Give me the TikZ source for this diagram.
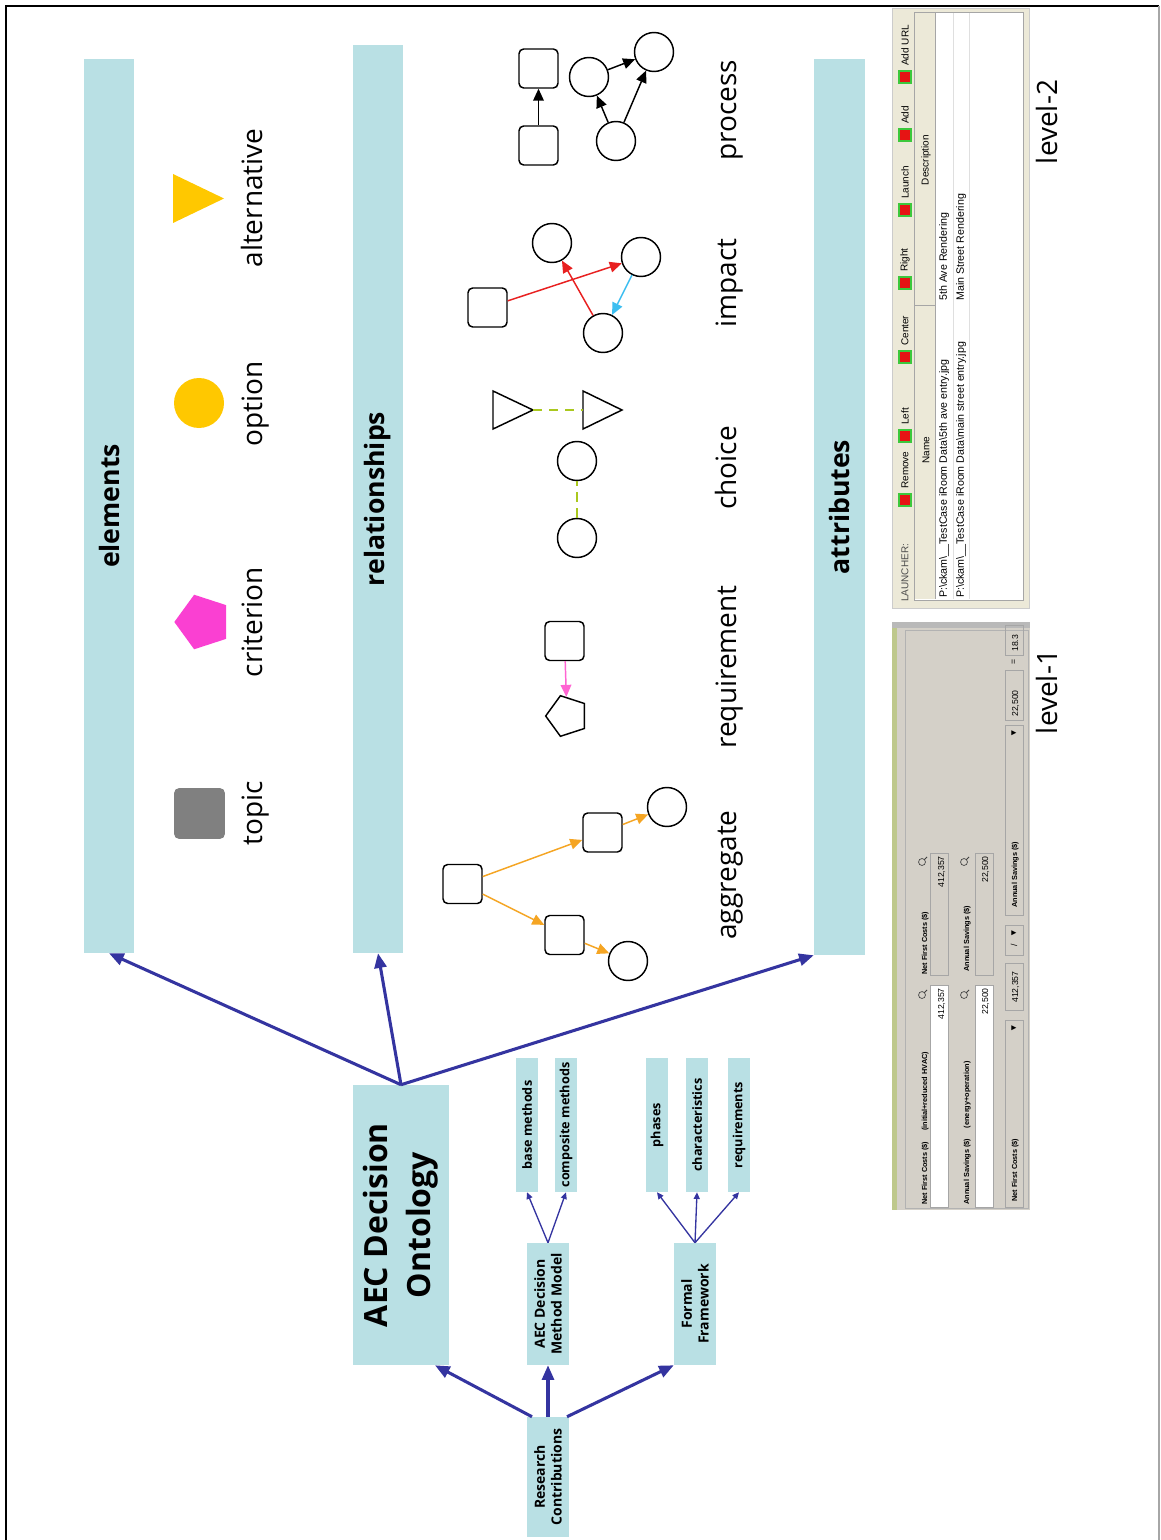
\documentclass[tikz,border=0pt]{standalone}
\usepackage{fontspec}
\setmainfont{Open Sans}
\newfontfamily\guifont{Liberation Sans}
\usetikzlibrary{arrows.meta,shapes.geometric,calc}

\definecolor{barteal}{RGB}{185,224,228}
\definecolor{navy}{RGB}{52,52,160}
\definecolor{gold}{RGB}{255,200,0}
\definecolor{magent}{RGB}{250,64,210}
\definecolor{topicgray}{RGB}{128,128,128}
\definecolor{aggorange}{RGB}{245,165,35}
\definecolor{choicegreen}{RGB}{170,200,30}
\definecolor{impred}{RGB}{232,32,32}
\definecolor{impblue}{RGB}{60,190,240}
\definecolor{reqpink}{RGB}{255,100,210}
\definecolor{guibeige}{RGB}{236,233,216}
\definecolor{guigray}{RGB}{212,208,200}
\definecolor{guiolive}{RGB}{190,200,140}
\definecolor{btnred}{RGB}{230,20,20}
\definecolor{btngreen}{RGB}{60,200,60}

\begin{document}
\begin{tikzpicture}[x=0.75pt,y=-0.75pt,
  bar/.style={rotate=90,fill=barteal,inner sep=0,minimum height=37.5pt,
    font=\bfseries\fontsize{20}{24}\selectfont},
  box/.style={rotate=90,fill=barteal,inner sep=0,align=center},
  smallbox/.style={box,minimum width=100.5pt,minimum height=16.5pt,
    font=\bfseries\fontsize{9.5}{11}\selectfont},
  midbox/.style={box,minimum width=91.5pt,minimum height=31.5pt,
    font=\bfseries\fontsize{10.5}{12.5}\selectfont},
  lab/.style={rotate=90,anchor=base,inner sep=0,font=\fontsize{21}{25}\selectfont},
  bigarrow/.style={navy,line width=2.3pt,-{Triangle[length=11pt,width=9pt]}},
  thinarrow/.style={navy,line width=1pt,-{Triangle[length=5pt,width=4.5pt]}},
  sq/.style={draw,line width=1.1pt,rounded corners=3.5pt,minimum size=29.25pt,inner sep=0},
  circ/.style={draw,circle,line width=1.1pt,minimum size=29.25pt,inner sep=0},
  relarrow/.style={line width=1.1pt,-{Triangle[length=9pt,width=8pt]}},
  choicedash/.style={choicegreen,line width=1.6pt,dash pattern=on 7pt off 5pt},
  gui/.style={rotate=90,inner sep=0,font=\guifont\fontsize{7.5}{8.5}\selectfont},
  guirow/.style={rotate=90,inner sep=0,font=\guifont\fontsize{8}{9}\selectfont},
  guib/.style={rotate=90,inner sep=0,font=\guifont\bfseries\fontsize{5.5}{6.5}\selectfont},
  guival/.style={rotate=90,inner sep=0,font=\guifont\fontsize{6.5}{7.5}\selectfont},
  btn/.style={fill=btnred,draw=btngreen,line width=1.3pt,minimum size=8.5pt,inner sep=0},
]
\useasboundingbox (0,0) rectangle (1160,1540);
\fill[white] (0,0) rectangle (1160,1540);

% outer frame
\draw[line width=1.8pt] (6,1545) -- (6,6) -- (1159,6);
\draw[gray!70,line width=0.8pt] (1159,6) -- (1159,1545);

% ---------- the three category bars ----------
\node[bar,minimum width=670.5pt] (elem) at (109,506) {elements};
\node[bar,minimum width=681pt] (rel) at (378,499) {relationships};
\node[bar,minimum width=672pt,minimum height=38.25pt] (attr) at (839.5,507) {attributes};

% ---------- element icons ----------
\fill[gold] (173,174) -- (173,223) -- (224,198.5) -- cycle;
\node[circle,fill=gold,minimum size=37.5pt,inner sep=0] (opt) at (199,403) {};
\node[regular polygon,regular polygon sides=5,shape border rotate=90,fill=magent,
      minimum size=43pt,inner sep=0] (crit) at (203,622) {};
\node[fill=topicgray,rounded corners=3.5pt,minimum size=38pt,inner sep=0] (topic) at (199.5,813.5) {};

\node[lab] (lalt) at (262,198) {alternative};
\node[lab] (lopt) at (262,404) {option};
\node[lab] (lcrit) at (262,622) {criterion};
\node[lab] (ltop) at (262,813) {topic};

% ---------- relationship icons ----------
% aggregate
\node[sq] (ag0) at (462.5,884) {};
\node[sq] (ag1) at (602.5,832.5) {};
\node[circ] (ag2) at (667,807) {};
\node[sq] (ag3) at (564.5,935) {};
\node[circ] (ag4) at (628,961) {};
\draw[relarrow,aggorange] (ag0) -- (ag1);
\draw[relarrow,aggorange] (ag1) -- (ag2);
\draw[relarrow,aggorange] (ag0) -- (ag3);
\draw[relarrow,aggorange] (ag3) -- (ag4);

% requirement
\node[sq] (rq0) at (564.5,641) {};
\node[regular polygon,regular polygon sides=5,shape border rotate=90,draw,line width=1.1pt,
      minimum size=32pt,inner sep=0] (rq1) at (567,716) {};
\draw[relarrow,reqpink] (rq0) -- (rq1);

% choice
\node[circ] (ch0) at (577,538) {};
\node[circ] (ch1) at (577,461) {};
\draw[choicedash] (ch0) -- (ch1);
\draw[line width=1.1pt] (493,391) -- (493,429) -- (533,410) -- cycle;
\draw[line width=1.1pt] (583,391) -- (583,429) -- (622,410) -- cycle;
\coordinate (chA) at (533,410);
\coordinate (chB) at (583,410);
\draw[choicedash] (chA) -- (chB);

% impact
\node[sq] (im0) at (487.5,307.5) {};
\node[circ] (imA) at (552,243) {};
\node[circ] (imB) at (641,257) {};
\node[circ] (imC) at (603,333) {};
\draw[relarrow,impred] (im0) -- (imB);
\draw[relarrow,impred] (imC) -- (imA);
\draw[relarrow,impblue] (imB) -- (imC);

% process
\node[sq] (pr0) at (538.5,145.5) {};
\node[sq] (pr1) at (538.5,68.5) {};
\node[circ] (prD) at (589,77) {};
\node[circ] (prE) at (654,52) {};
\node[circ] (prF) at (616,141) {};
\draw[relarrow] (pr0) -- (pr1);
\draw[relarrow] (prF) -- (prD);
\draw[relarrow] (prF) -- (prE);
\draw[relarrow] (prD) -- (prE);

\node[lab] (lagg) at (736,875) {aggregate};
\node[lab] (lreq) at (736,667) {requirement};
\node[lab] (lcho) at (736,468) {choice};
\node[lab] (limp) at (736,283) {impact};
\node[lab] (lpro) at (736,110) {process};

% ---------- contribution tree ----------
\node[box,minimum width=210pt,minimum height=72pt,
      font=\bfseries\fontsize{24}{32}\selectfont] (onto) at (401,1225) {AEC Decision\\Ontology};
\draw[bigarrow] (onto.east) -- (elem.west);
\draw[bigarrow] (onto.east) -- (rel.west);
\draw[bigarrow] (onto.east) -- (attr.north west);

\node[midbox] (meth) at (548,1304) {AEC Decision\\Method Model};
\node[midbox] (form) at (695,1304) {Formal\\Framework};
\node[midbox,minimum width=90pt] (res) at (548,1477) {Research\\Contributions};

\node[smallbox] (base) at (527,1125) {base methods};
\node[smallbox] (comp) at (566,1125) {composite methods};
\node[smallbox] (phas) at (657,1125) {phases};
\node[smallbox] (char) at (697,1125) {characteristics};
\node[smallbox] (reqs) at (739,1125) {requirements};

\draw[thinarrow] (meth.east) -- (base.west);
\draw[thinarrow] (meth.east) -- (comp.west);
\draw[thinarrow] (form.east) -- (phas.west);
\draw[thinarrow] (form.east) -- (char.west);
\draw[thinarrow] (form.east) -- (reqs.west);

\draw[bigarrow] ($(res.east)+(-16,0)$) -- ($(onto.west)+(34,0)$);
\draw[bigarrow] (res.east) -- (meth.west);
\draw[bigarrow] ($(res.east)+(19,0)$) -- (form.north west);

% ---------- level-2: launcher window ----------
\node[fill=guibeige,draw=gray!40,minimum width=102.75pt,minimum height=450pt,inner sep=0] (lv2) at (960.5,308) {};
\node[fill=white,draw=gray!70,minimum width=81.75pt,minimum height=441pt,inner sep=0] (tbl) at (968.5,306) {};
\fill[guibeige] (915,13) rectangle (935,599);
\draw[gray!70] (935,13) -- (935,599);
\draw[gray!70] (915,305) -- (935,305);
\draw[gray!25] (953,13) -- (953,599);
\draw[gray!25] (969,13) -- (969,599);
\node[gui] (hname) at (926,450) {Name};
\node[gui] (hdesc) at (926,160) {Description};
\node[guirow,anchor=west] (r1a) at (944,598) {P:\textbackslash ckam\textbackslash\_\_TestCase iRoom Data\textbackslash 5th ave entry.jpg};
\node[guirow,anchor=west] (r1b) at (944,301) {5th Ave Rendering};
\node[guirow,anchor=west] (r2a) at (961,598) {P:\textbackslash ckam\textbackslash\_\_TestCase iRoom Data\textbackslash main street entry.jpg};
\node[guirow,anchor=west] (r2b) at (961,301) {Main Street Rendering};

\node[gui,anchor=west,text=gray!60!black] (launch) at (905,602) {LAUNCHER:};
\node[btn] (b1) at (905,500) {};
\node[gui,anchor=west] (t1) at (905,489) {Remove};
\node[btn] (b2) at (905,436) {};
\node[gui,anchor=west] (t2) at (905,425) {Left};
\node[btn] (b3) at (905,357) {};
\node[gui,anchor=west] (t3) at (905,346) {Center};
\node[btn] (b4) at (905,283) {};
\node[gui,anchor=west] (t4) at (905,272) {Right};
\node[btn] (b5) at (905,210) {};
\node[gui,anchor=west] (t5) at (905,199) {Launch};
\node[btn] (b6) at (905,135) {};
\node[gui,anchor=west] (t6) at (905,124) {Add};
\node[btn] (b7) at (905,77) {};
\node[gui,anchor=west] (t7) at (905,66) {Add URL};

% ---------- level-1: cost calculator window ----------
\node[fill=guigray,minimum width=103.5pt,minimum height=441pt,inner sep=0] (lv1) at (961,916) {};
\fill[gray!55] (892,622) rectangle (1030,628);
\fill[guiolive] (892,628) rectangle (897,1210);
\draw[gray!60] (905,630) rectangle (1028,1208);

\node[guib,anchor=base west] (a1) at (927,1205) {Net First Costs (\$)\hspace{8pt}(initial+reduced HVAC)};
\node[guib,anchor=base west] (a2) at (927,975) {Net First Costs (\$)};
\node[fill=white,draw=gray!70,minimum width=13.5pt,minimum height=166.5pt,inner sep=0] (fa1) at (939.5,1096) {};
\node[fill=guigray,draw=gray!70,minimum width=13.5pt,minimum height=91.5pt,inner sep=0] (fa2) at (939.5,914) {};
\node[guival,anchor=base east] (va1) at (944,988) {412,357};
\node[guival,anchor=base east] (va2) at (944,856) {412,357};

\node[guib,anchor=base west] (b1l) at (969,1205) {Annual Savings (\$)\hspace{8pt}(energy+operation)};
\node[guib,anchor=base west] (b2l) at (969,972) {Annual Savings (\$)};
\node[fill=white,draw=gray!70,minimum width=13.5pt,minimum height=166.5pt,inner sep=0] (fb1) at (984,1096) {};
\node[fill=guigray,draw=gray!70,minimum width=13.5pt,minimum height=91.5pt,inner sep=0] (fb2) at (984,914) {};
\node[guival,anchor=base east] (vb1) at (988,988) {22,500};
\node[guival,anchor=base east] (vb2) at (988,856) {22,500};

\foreach \qx/\qy in {922/995,922/862,964/995,964/862}{
  \draw[gray!50!black,line width=0.5pt] (\qx,\qy) circle[radius=2.6pt];
  \draw[gray!50!black,line width=0.6pt] (\qx+2,\qy-2) -- (\qx+5,\qy-5);
}

\draw[gray!70,fill=guigray] (1005,1020) rectangle (1023,1207);
\node[guib,anchor=base west] (c1) at (1017,1202) {Net First Costs (\$)};
\node[guival] (c1a) at (1014,1028) {▼};
\draw[gray!70] (1005,963) rectangle (1023,1010);
\node[guival,anchor=base west] (c2) at (1018,1003) {412,357};
\draw[gray!70] (1005,925) rectangle (1023,955);
\node[guival] (c3) at (1014,945) {/};
\node[guival] (c3a) at (1014,933) {▼};
\draw[gray!70] (1005,725) rectangle (1023,915);
\node[guib,anchor=base west] (c4) at (1017,908) {Annual Savings (\$)};
\node[guival] (c4a) at (1014,733) {▼};
\draw[gray!70] (1005,670) rectangle (1023,720);
\node[guival,anchor=base west] (c5) at (1018,717) {22,500};
\node[guival] (c6) at (1014,662) {=};
\draw[gray!70] (1005,625) rectangle (1023,655);
\node[guival,anchor=base west] (c7) at (1018,652) {18.3};

% window captions
\node[lab] (lv2lab) at (1057,122) {level-2};
\node[lab] (lv1lab) at (1057,692) {level-1};
\end{tikzpicture}
\end{document}
